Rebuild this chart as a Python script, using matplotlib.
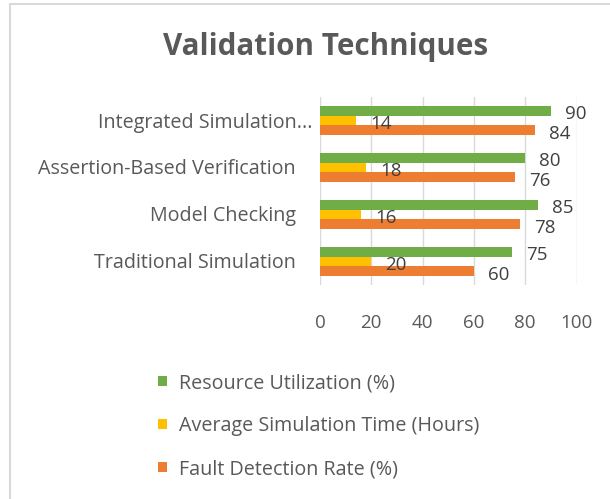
import matplotlib
matplotlib.use("Agg")
import matplotlib.pyplot as plt
from matplotlib.patches import Patch, Rectangle
from matplotlib.transforms import blended_transform_factory, offset_copy
import numpy as np

plt.rcParams['font.family'] = ['Open Sans', 'DejaVu Sans']

# data (bottom to top as drawn)
categories = ["Traditional Simulation", "Model Checking",
              "Assertion-Based Verification", "Integrated Simulation..."]
resource_util = [75, 85, 80, 90]
avg_sim_time = [20, 16, 18, 14]
fault_detect = [60, 78, 76, 84]
ticks = [0, 20, 40, 60, 80, 100]

series = [
    ("Resource Utilization (%)", resource_util, "#70AD47", 0.205),
    ("Average Simulation Time (Hours)", avg_sim_time, "#FFC000", 0.0),
    ("Fault Detection Rate (%)", fault_detect, "#ED7D31", -0.205),
]

W, H = 610, 499
fig = plt.figure(figsize=(W / 100, H / 100), dpi=100)

# chart border (light grey, open at right/bottom like the crop)
fig.patches.append(Rectangle((10 / W, -0.1), 1.2, 1 - 4 / H + 0.1,
                             transform=fig.transFigure, fill=False,
                             edgecolor="#d9d9d9", linewidth=1.5))

ax = fig.add_axes([320 / W, 1 - 285 / H, 256.5 / W, 188 / H])
y = np.arange(len(categories))
bh = 0.205

for name, vals, col, off in series:
    bars = ax.barh(y + off, vals, height=bh, color=col, zorder=3)
    for b, v in zip(bars, vals):
        ax.annotate(str(v), (b.get_width(), b.get_y() + b.get_height() / 2),
                    xytext=(10, -2.5), textcoords="offset points",
                    ha="left", va="center", fontsize=13.5, color="#404040",
                    annotation_clip=False, zorder=4)

ax.set_xlim(0, 100)
ax.set_ylim(-0.5, len(categories) - 0.5)
ax.set_xticks(ticks)
ax.set_xticklabels([str(t) for t in ticks], fontsize=13.5, color="#595959")
ax.tick_params(axis="x", length=0, pad=21)
ax.set_yticks([])
ax.grid(axis="x", color="#d9d9d9", linewidth=1, zorder=0)
for s in ax.spines.values():
    s.set_visible(False)

# category labels (the truncated one sits a bit further right, as in Excel)
tr = offset_copy(blended_transform_factory(fig.transFigure, ax.transData),
                 fig=fig, y=-2, units="dots")
for yi, cat in zip(y, categories):
    xr = 312 if cat.endswith("...") else 296
    ax.text(xr / W, yi, cat, transform=tr, ha="right", va="center",
            fontsize=14.2, color="#595959")

fig.text(326 / W, 1 - 47 / H, "Validation Techniques", ha="center", va="center",
         fontsize=21.3, fontweight="bold", color="#595959")

handles = [Patch(facecolor=c, edgecolor="none") for _, _, c, _ in series]
labels = [n for n, _, _, _ in series]
fig.legend(handles, labels, loc="upper left",
           bbox_to_anchor=(158 / W, 1 - 373 / H), frameon=False,
           fontsize=14.2, labelcolor="#595959", handlelength=0.45,
           handleheight=0.45, handletextpad=0.6, labelspacing=1.17,
           borderpad=0, borderaxespad=0)

fig.savefig("out.png", dpi=100)
